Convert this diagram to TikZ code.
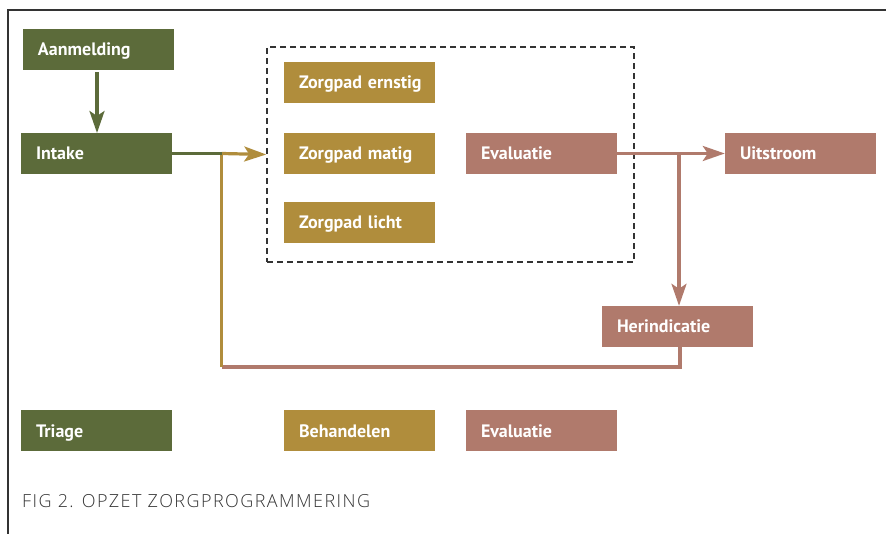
\documentclass[tikz,border=0pt]{standalone}
\usepackage{fontspec}
\setmainfont{PT Sans}
\newfontfamily\capfont[LetterSpace=8]{Open Sans Light}
\usetikzlibrary{arrows.meta}
\definecolor{cgreen}{HTML}{5C6B3A}
\definecolor{cgold}{HTML}{B08D3C}
\definecolor{cpink}{HTML}{B07A6C}
\definecolor{cframe}{HTML}{333333}
\tikzset{
  box/.style={fill=#1, text=white, minimum width=151pt, minimum height=41pt,
    text width=130pt, inner xsep=10.5pt, inner ysep=0pt, align=left,
    text height=13pt, text depth=0pt,
    execute at begin node={\hspace*{4.5pt}},
    font=\fontsize{18}{18}\selectfont\bfseries},
  conn/.style={draw=#1, line width=3.2pt,
    -{Stealth[length=22pt,width=15pt,inset=5pt]}},
  seg/.style={draw=#1, line width=3.2pt}
}
\begin{document}
\begin{tikzpicture}[x=1pt,y=-1pt]
\useasboundingbox (0,0) rectangle (886,534);
\draw[cframe, line width=1.8pt] (8,534) -- (8,10) -- (886,10);
% dashed group
\node[draw=cframe, dash pattern=on 6pt off 4pt, line width=1.6pt,
  minimum width=367pt, minimum height=215pt, inner sep=0pt] (grp) at (450.5,154.5) {};
% boxes
\node[box=cgreen] (aan) at (98.5,49.5) {Aanmelding};
\node[box=cgreen] (int) at (96.5,153.5) {Intake};
\node[box=cgold] (zpe) at (359.5,82.5) {Zorgpad ernstig};
\node[box=cgold] (zpm) at (359.5,153.5) {Zorgpad matig};
\node[box=cgold] (zpl) at (359.5,222.5) {Zorgpad licht};
\node[box=cpink] (ev1) at (541.5,153.5) {Evaluatie};
\node[box=cpink] (uit) at (800.5,153.5) {Uitstroom};
\node[box=cpink] (her) at (677.5,326.5) {Herindicatie};
\node[box=cgreen] (tri) at (96.5,430.5) {Triage};
\node[box=cgold] (beh) at (359.5,430.5) {Behandelen};
\node[box=cpink] (ev2) at (541.5,430.5) {Evaluatie};
% caption
\node[anchor=base west, inner sep=0pt, text=cframe,
  font=\capfont\fontsize{18}{18}\selectfont] (cap) at (22,507) {FIG 2. OPZET ZORGPROGRAMMERING};
% connectors
\coordinate (j1) at (221.5,153.5);
\coordinate (j2) at (679,153.5);
\coordinate (c1) at (680,367);
\coordinate (c2) at (221.5,367);
\draw[conn=cgreen, shorten <=2pt] (aan.south -| 97,0) -- (97,133);
\draw[seg=cpink] (her.south -| c1) -- (c1) -- (c2);
\draw[seg=cgold] (c2) -- (j1);
\draw[conn=cgold] (j1) -- (grp.west);
\draw[seg=cgreen] (int.east) -- (j1);
\draw[conn=cpink] (ev1.east) -- (uit.west);
\draw[conn=cpink] (j2) -- (j2 |- her.north);
\end{tikzpicture}
\end{document}
